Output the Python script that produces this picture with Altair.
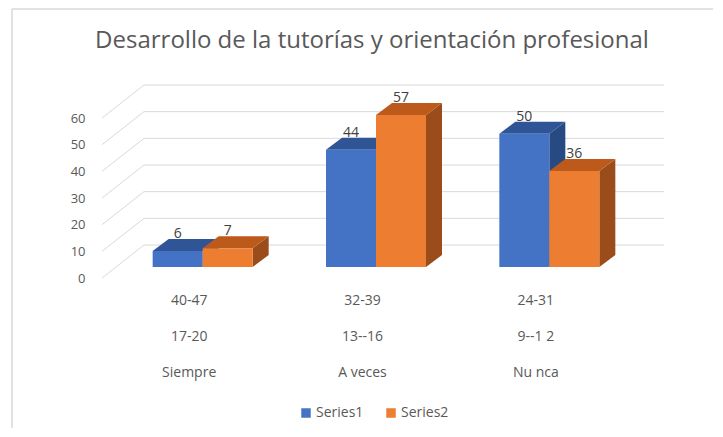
import json
import altair as alt
import pandas as pd

# ---------------- data ----------------
categories_top = ["40-47", "32-39", "24-31"]
categories_mid = ["17-20", "13--16", "9--1 2"]
categories_bottom = ["Siempre", "A veces", "Nu nca"]
series_names = ["Series1", "Series2"]
series1 = [6, 44, 50]
series2 = [7, 57, 36]
y_ticks = [0, 10, 20, 30, 40, 50, 60]
title_text = "Desarrollo de la tutorías y orientación profesional"

# ---------------- layout / style ----------------
W, H = 520, 160           # front plane of the 3-D box (pixels)
Y_MAX = 60
N = len(categories_bottom)
ux = N / W                # x data units per pixel
uy = Y_MAX / H            # y data units per pixel

BAR_W = 50 * ux
WALL_DX, WALL_DY = 42 * ux, 33 * uy     # depth of the box
BF_DX, BF_DY = 14 * ux, 11 * uy         # bar front plane
BB_DX, BB_DY = 30 * ux, 23 * uy         # bar back plane
DEPTH_DX, DEPTH_DY = BB_DX - BF_DX, BB_DY - BF_DY

colors_front = ["#4472C4", "#ED7D31"]
colors_top = ["#2F5597", "#BC5A1C"]
colors_side = ["#284A82", "#9A4C1B"]
GRID = "#D9D9D9"
TXT = "#595959"
FONT = "Open Sans"

# ---------------- geometry tables (derived from the data) ----------------
front_rows, top_rows, side_rows, label_rows = [], [], [], []
for s, (name, vals) in enumerate(zip(series_names, [series1, series2])):
    for i, v in enumerate(vals):
        cx = i + 0.5
        x0 = cx + (s - 1) * BAR_W + BF_DX
        x1 = x0 + BAR_W
        y0 = BF_DY
        y1 = v + BF_DY
        bid = f"{name}-{i}"
        front_rows.append(dict(series=name, x=x0, x2=x1, y=y0, y2=y1))
        top_rows += [
            dict(bar=bid, shade=colors_top[s], px=x0, lo=y1, hi=y1),
            dict(bar=bid, shade=colors_top[s], px=x0 + DEPTH_DX, lo=y1, hi=y1 + DEPTH_DY),
            dict(bar=bid, shade=colors_top[s], px=x1, lo=y1, hi=y1 + DEPTH_DY),
            dict(bar=bid, shade=colors_top[s], px=x1 + DEPTH_DX, lo=y1 + DEPTH_DY, hi=y1 + DEPTH_DY),
        ]
        side_rows += [
            dict(bar=bid, shade=colors_side[s], px=x1, lo=y0, hi=y1),
            dict(bar=bid, shade=colors_side[s], px=x1 + DEPTH_DX, lo=y0 + DEPTH_DY, hi=y1 + DEPTH_DY),
        ]
        label_rows.append(dict(x=(x0 + x1) / 2, y=v + BB_DY, text=str(v)))

wall_side = pd.DataFrame([dict(x=0, x2=WALL_DX, y=v, y2=v + WALL_DY) for v in y_ticks])
wall_back = pd.DataFrame([dict(x=WALL_DX, x2=N + WALL_DX, y=v + WALL_DY) for v in y_ticks])

xs = alt.Scale(domain=[0, N], nice=False, zero=False)
ys = alt.Scale(domain=[0, Y_MAX], nice=False, zero=False)

label_lines = [[a, b, c] for a, b, c in zip(categories_top, categories_mid, categories_bottom)]
label_expr = f"{json.dumps(label_lines)}[floor(datum.value)]"

x_axis = alt.Axis(values=[i + 0.5 for i in range(N)], labelExpr=label_expr,
                  labelLineHeight=36, labelPadding=15, ticks=False, domain=False,
                  grid=False, labelFont=FONT, labelFontSize=14, labelColor=TXT,
                  title=None, labelAngle=0)
y_axis = alt.Axis(values=y_ticks, ticks=False, domain=False, grid=False,
                  labelPadding=17, labelFont=FONT, labelFontSize=13,
                  labelColor=TXT, title=None)


def X(field):
    return alt.X(field, scale=xs, axis=x_axis, title=None)


def Y(field, **kw):
    return alt.Y(field, scale=ys, axis=y_axis, title=None, **kw)


one = pd.DataFrame({"k": [0]})

# chart frame (decoration)
frame_top = alt.Chart(one).mark_rule(color=GRID, strokeWidth=1.5).encode(
    x=alt.value(-90), x2=alt.value(W + 100), y=alt.value(-109))
frame_left = alt.Chart(one).mark_rule(color=GRID, strokeWidth=1.5).encode(
    x=alt.value(-90), y=alt.value(-109), y2=alt.value(H + 160))
title = alt.Chart(one).mark_text(font=FONT, fontSize=24, color=TXT,
                                 baseline="alphabetic", align="center").encode(
    x=alt.value(270), y=alt.value(-70), text=alt.value(title_text))

side = alt.Chart(wall_side).mark_rule(color=GRID, strokeWidth=1).encode(
    x=X("x:Q"), x2="x2:Q", y=Y("y:Q"), y2="y2:Q")
back = alt.Chart(wall_back).mark_rule(color=GRID, strokeWidth=1).encode(
    x=X("x:Q"), x2="x2:Q", y=Y("y:Q"))

sides = alt.Chart(pd.DataFrame(side_rows)).mark_area(orient="vertical").encode(
    x=X("px:Q"), y=Y("lo:Q", stack=None), y2="hi:Q",
    detail="bar:N", color=alt.Color("shade:N", scale=None))
tops = alt.Chart(pd.DataFrame(top_rows)).mark_area(orient="vertical").encode(
    x=X("px:Q"), y=Y("lo:Q", stack=None), y2="hi:Q",
    detail="bar:N", color=alt.Color("shade:N", scale=None))
fronts = alt.Chart(pd.DataFrame(front_rows)).mark_rect().encode(
    x=X("x:Q"), x2="x2:Q", y=Y("y:Q"), y2="y2:Q",
    color=alt.Color("series:N",
                    scale=alt.Scale(domain=series_names, range=colors_front),
                    legend=alt.Legend(orient="none", legendX=197, legendY=288,
                                      direction="horizontal", title=None,
                                      symbolType="square", symbolSize=90,
                                      symbolStrokeWidth=0, labelFont=FONT,
                                      labelFontSize=14, labelColor=TXT,
                                      labelOffset=3, columnPadding=20)))
labels = alt.Chart(pd.DataFrame(label_rows)).mark_text(
    font=FONT, fontSize=14, color="#404040", baseline="alphabetic", dy=-1).encode(
    x=X("x:Q"), y=Y("y:Q"), text="text:N")

chart = alt.layer(frame_top, frame_left, title, side, back, sides, tops, fronts, labels).resolve_scale(
    color="independent"
).properties(
    width=W, height=H,
    autosize="none",
    padding={"left": 94, "top": 110, "right": 91, "bottom": 150},
    view=alt.ViewBackground(stroke="transparent", strokeWidth=0),
).configure_view(stroke="transparent", strokeWidth=0).configure(background="white")

chart.save("out.html", embed_options={"renderer": "svg", "actions": False})
